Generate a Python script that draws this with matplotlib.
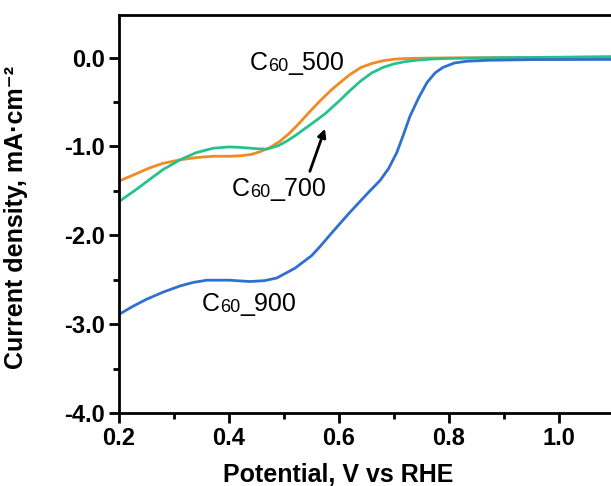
import matplotlib.pyplot as plt
import numpy as np

plt.rcParams['font.family'] = ['Liberation Sans', 'DejaVu Sans']

# potential (V vs RHE) and current density (mA cm-2)
v_500 = [0.20, 0.23, 0.256, 0.28, 0.311, 0.34, 0.371, 0.40, 0.42, 0.44, 0.456, 0.475, 0.493, 0.51,
         0.529, 0.545, 0.565, 0.585, 0.60, 0.62, 0.64, 0.66, 0.68, 0.70, 0.72, 0.76, 0.80, 0.90, 1.00, 1.10]
j_500 = [-1.39, -1.31, -1.24, -1.19, -1.15, -1.125, -1.11, -1.11, -1.105, -1.09, -1.06, -1.01, -0.94, -0.85,
         -0.73, -0.62, -0.49, -0.37, -0.29, -0.19, -0.11, -0.065, -0.035, -0.018, -0.01, -0.005, -0.003, 0.0, 0.002, 0.005]

v_700 = [0.20, 0.23, 0.256, 0.28, 0.311, 0.34, 0.371, 0.40, 0.42, 0.45, 0.469, 0.49, 0.505, 0.52, 0.54,
         0.56, 0.575, 0.60, 0.62, 0.64, 0.66, 0.68, 0.70, 0.72, 0.74, 0.77, 0.80, 0.90, 1.00, 1.10]
j_700 = [-1.62, -1.49, -1.37, -1.26, -1.15, -1.07, -1.02, -1.005, -1.01, -1.025, -1.03, -0.99, -0.94, -0.88, -0.79,
         -0.70, -0.63, -0.49, -0.37, -0.26, -0.17, -0.11, -0.07, -0.045, -0.03, -0.015, -0.008, 0.0, 0.005, 0.012]

v_900 = [0.20, 0.225, 0.25, 0.28, 0.311, 0.335, 0.36, 0.40, 0.438, 0.465, 0.487, 0.505, 0.52, 0.535, 0.55,
         0.565, 0.59, 0.62, 0.65, 0.675, 0.69, 0.705, 0.717, 0.729, 0.745, 0.76, 0.775, 0.789, 0.81, 0.833,
         0.87, 0.95, 1.10]
j_900 = [-2.89, -2.80, -2.72, -2.64, -2.57, -2.53, -2.505, -2.505, -2.52, -2.51, -2.48, -2.42, -2.37, -2.30, -2.23,
         -2.13, -1.95, -1.74, -1.54, -1.38, -1.25, -1.07, -0.87, -0.66, -0.45, -0.28, -0.17, -0.11, -0.06, -0.04,
         -0.03, -0.022, -0.02]

names = ['500', '700', '900']
label_xy = [(0.438, -0.135), (0.405, -1.56), (0.351, -2.85)]

c_500 = '#F28A24'
c_700 = '#26C28E'
c_900 = '#2F6FD0'

fig = plt.figure(figsize=(6.11, 4.86), dpi=100)
ax = fig.add_axes([119/611, 1 - 413/486, 550/611, 398/486])

ax.plot(v_500, j_500, color=c_500, lw=2)
ax.plot(v_700, j_700, color=c_700, lw=2)
ax.plot(v_900, j_900, color=c_900, lw=2)

ax.set_xlim(0.2, 1.2)
ax.set_ylim(-4.0, 0.48)
ax.set_xticks([0.2, 0.4, 0.6, 0.8, 1.0])
ax.set_xticks(np.arange(0.3, 1.2, 0.2), minor=True)
ax.set_yticks([-4.0, -3.0, -2.0, -1.0, 0.0])
ax.set_yticks([-3.5, -2.5, -1.5, -0.5], minor=True)
ax.set_xticklabels(['0.2', '0.4', '0.6', '0.8', '1.0'])
ax.set_yticklabels(['-4.0', '-3.0', '-2.0', '-1.0', '0.0'])
for s in ax.spines.values():
    s.set_linewidth(2)
ax.spines['top'].set_zorder(5)
ax.tick_params(which='major', direction='out', length=7, width=2, labelsize=17, pad=3)
ax.tick_params(which='minor', direction='out', length=4, width=2)
for lb in ax.get_xticklabels() + ax.get_yticklabels():
    lb.set_fontweight('bold')

ax.set_xlabel('Potential, V vs RHE', fontsize=18, fontweight='bold')
ax.xaxis.set_label_coords((338 - 119) / 550, -0.125)
ax.set_ylabel('Current density, mA·cm\u207b\u00b2', fontsize=18, fontweight='bold')
ax.yaxis.set_label_coords(-0.165, 0.49)

# "C" + small "60" on the same baseline + "_NNN"
for nm, (x, y) in zip(names, label_xy):
    t1 = ax.text(x, y, 'C', fontsize=18, ha='left', va='baseline')
    t2 = ax.annotate('60', xy=(1, 0), xycoords=t1, fontsize=13, ha='left', va='bottom')
    ax.annotate('_' + nm, xy=(1, 0), xycoords=t2, fontsize=18, ha='left', va='bottom')

ax.annotate('', xy=(0.5745, -0.80), xytext=(0.547, -1.28),
            arrowprops=dict(arrowstyle='-|>', color='black', lw=2, mutation_scale=12,
                            shrinkA=0, shrinkB=0))

fig.savefig('out.png', dpi=100)
